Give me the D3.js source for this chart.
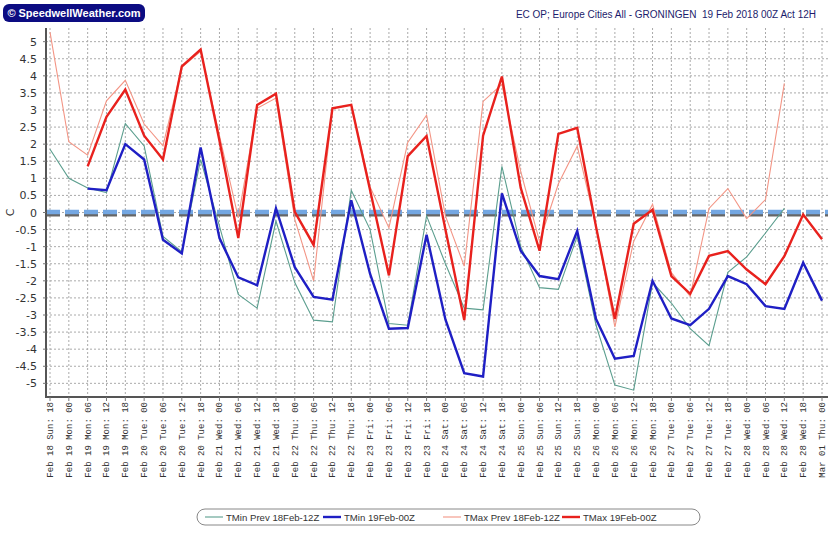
<!DOCTYPE html>
<html>
<head>
<meta charset="utf-8">
<script src="https://cdn.jsdelivr.net/npm/d3@7"></script>
<style>
  body { margin: 0; background: #fff; }
  svg { display: block; }
  .grid line { stroke: #aaa; stroke-dasharray: 2,2; stroke-width: 1; }
  .ylab { font-family: Tahoma, "DejaVu Sans", sans-serif; font-size: 11px; fill: #333; }
  .xlab { font-family: "Liberation Mono", monospace; font-size: 9px; fill: #333; }
  .legend text { font-family: "Liberation Sans", Tahoma, sans-serif; font-size: 9.6px; fill: #333; }
</style>
</head>
<body>
<script>
var w = 832, h = 535;

// x categories (6-hourly steps)
var days = ['Feb 18 Sun', 'Feb 19 Mon', 'Feb 20 Tue', 'Feb 21 Wed', 'Feb 22 Thu', 'Feb 23 Fri',
            'Feb 24 Sat', 'Feb 25 Sun', 'Feb 26 Mon', 'Feb 27 Tue', 'Feb 28 Wed', 'Mar 01 Thu'];
var hours = ['00', '06', '12', '18'];
var labels = ['Feb 18 Sun: 18'];
days.slice(1, 11).forEach(function(d) {
  hours.forEach(function(hh) { labels.push(d + ': ' + hh); });
});
labels.push('Mar 01 Thu: 00');

var yTicks = [5, 4.5, 4, 3.5, 3, 2.5, 2, 1.5, 1, 0.5, 0, -0.5, -1, -1.5, -2, -2.5, -3, -3.5, -4, -4.5, -5];

var tminPrev = [1.85, 1.0, 0.72, 0.58, 2.6, 1.95, -0.7, -1.15, 1.55, -0.4,
                -2.4, -2.8, -0.25, -2.05, -3.15, -3.2, 0.65, -0.5, -3.25, -3.3,
                -0.1, -1.5, -2.8, -2.85, 1.35, -1.0, -2.2, -2.25, -0.7, -3.3,
                -5.05, -5.2, -2.05, -2.65, -3.4, -3.9, -1.75, -1.3, -0.6, 0.12,
                null, null];
var tmin = [null, null, 0.7, 0.65, 2.0, 1.55, -0.8, -1.2, 1.9, -0.75,
            -1.9, -2.13, 0.12, -1.6, -2.47, -2.55, 0.36, -1.8, -3.4, -3.38,
            -0.65, -3.13, -4.7, -4.8, 0.56, -1.12, -1.86, -1.95, -0.54, -3.12,
            -4.28, -4.2, -2.0, -3.1, -3.3, -2.82, -1.86, -2.1, -2.74, -2.82,
            -1.47, -2.58];
var tmaxPrev = [5.28, 2.07, 1.68, 3.27, 3.87, 2.59, 1.95, 4.25, 4.72, 2.25,
                -0.15, 3.05, 3.35, -0.2, -2.0, 3.05, 3.15, 0.75, -0.45, 2.05,
                2.85, -0.1, -1.57, 3.25, 3.75, 1.2, -0.85, 0.84, 1.94, -0.4,
                -3.35, -0.84, 0.24, -1.76, -2.45, 0.12, 0.7, -0.18, 0.38, 3.78,
                null, null];
var tmax = [null, null, 1.35, 2.8, 3.6, 2.25, 1.55, 4.28, 4.77, 2.1,
            -0.75, 3.15, 3.48, 0.02, -0.95, 3.05, 3.15, 0.65, -1.84, 1.65,
            2.24, -0.5, -3.15, 2.25, 3.98, 0.72, -1.12, 2.3, 2.48, -0.42,
            -3.12, -0.33, 0.08, -1.86, -2.38, -1.27, -1.13, -1.67, -2.1, -1.28,
            -0.06, -0.78];

var series = [
  { name: 'TMin Prev 18Feb-12Z', values: tminPrev, color: '#5b9e8e', width: 1.1 },
  { name: 'TMin 19Feb-00Z', values: tmin, color: '#1f1fc4', width: 2.4 },
  { name: 'TMax Prev 18Feb-12Z', values: tmaxPrev, color: '#f39585', width: 1.1 },
  { name: 'TMax 19Feb-00Z', values: tmax, color: '#e8211d', width: 2.4 }
];

var pLeft = 46, pRight = 828, pTop = 28, pBottom = 397;

var x = d3.scalePoint().domain(labels).range([50, 822]);
var y = d3.scaleLinear().domain([-5.4, 5.4]).range([pBottom, pTop]);

var svg = d3.select('body').append('svg')
  .attr('width', w)
  .attr('height', h);

// grid
var grid = svg.append('g').attr('class', 'grid');
grid.selectAll('.hg')
  .data(yTicks)
  .enter().append('line')
    .attr('x1', pLeft).attr('x2', pRight)
    .attr('y1', function(d) { return y(d); })
    .attr('y2', function(d) { return y(d); });
grid.selectAll('.vg')
  .data(labels)
  .enter().append('line')
    .attr('x1', function(d) { return x(d); })
    .attr('x2', function(d) { return x(d); })
    .attr('y1', pTop).attr('y2', pBottom);

// zero line with shadow
svg.append('line')
  .attr('x1', pLeft).attr('x2', pRight)
  .attr('y1', y(0) + 2).attr('y2', y(0) + 2)
  .style('stroke', '#666').style('stroke-width', 4)
  .style('stroke-dasharray', '14,5');
svg.append('line')
  .attr('x1', pLeft).attr('x2', pRight)
  .attr('y1', y(0) - 0.5).attr('y2', y(0) - 0.5)
  .style('stroke', '#74a7e2').style('stroke-width', 4.5)
  .style('stroke-dasharray', '14,5');

// series
var line = d3.line()
  .defined(function(d) { return d != null; })
  .x(function(d, i) { return x(labels[i]); })
  .y(function(d) { return y(d); });

svg.selectAll('.series')
  .data(series)
  .enter().append('path')
    .attr('class', 'series')
    .attr('d', function(s) { return line(s.values); })
    .style('fill', 'none')
    .style('stroke', function(s) { return s.color; })
    .style('stroke-width', function(s) { return s.width; })
    .style('stroke-linejoin', 'miter');

// axes
svg.append('line')
  .attr('x1', pLeft).attr('x2', pLeft)
  .attr('y1', pTop).attr('y2', pBottom + 1)
  .style('stroke', '#555').style('stroke-width', 2);
svg.append('line')
  .attr('x1', pLeft - 1).attr('x2', pRight)
  .attr('y1', pBottom).attr('y2', pBottom)
  .style('stroke', '#555').style('stroke-width', 2);

svg.selectAll('.ytick')
  .data(yTicks)
  .enter().append('line')
    .attr('x1', pLeft - 3).attr('x2', pLeft)
    .attr('y1', function(d) { return y(d); })
    .attr('y2', function(d) { return y(d); })
    .style('stroke', '#777');

svg.selectAll('.ylab')
  .data(yTicks)
  .enter().append('text')
    .attr('class', 'ylab')
    .attr('x', 37)
    .attr('y', function(d) { return y(d) + 4; })
    .style('text-anchor', 'end')
    .text(function(d) { return d; });

svg.append('text')
  .attr('class', 'ylab')
  .attr('transform', 'translate(14,' + y(0) + ') rotate(-90)')
  .style('text-anchor', 'middle')
  .text('C');

svg.selectAll('.xtick')
  .data(labels)
  .enter().append('line')
    .attr('x1', function(d) { return x(d); })
    .attr('x2', function(d) { return x(d); })
    .attr('y1', pBottom).attr('y2', pBottom + 4)
    .style('stroke', '#777');

svg.selectAll('.xlab')
  .data(labels)
  .enter().append('text')
    .attr('class', 'xlab')
    .attr('transform', function(d) { return 'translate(' + (x(d) + 3) + ',' + (pBottom + 5) + ') rotate(-90)'; })
    .style('text-anchor', 'end')
    .text(function(d) { return d; });

// logo and title
svg.append('rect')
  .attr('x', 3).attr('y', 4)
  .attr('width', 142).attr('height', 18)
  .attr('rx', 6)
  .style('fill', '#0c0c82');
svg.append('text')
  .attr('x', 74).attr('y', 17)
  .style('text-anchor', 'middle')
  .style('font-family', '"Liberation Sans", sans-serif')
  .style('font-weight', 'bold')
  .style('font-size', '11px')
  .style('fill', '#fff')
  .text('\u00a9 SpeedwellWeather.com');

svg.append('text')
  .attr('x', 816).attr('y', 18)
  .style('text-anchor', 'end')
  .style('font-family', '"Liberation Sans", Tahoma, sans-serif')
  .style('font-size', '10px')
  .style('fill', '#1c1c6c')
  .style('white-space', 'pre')
  .text('EC OP; Europe Cities All - GRONINGEN  19 Feb 2018 00Z Act 12H');

// legend
var legend = svg.append('g').attr('class', 'legend');
legend.append('rect')
  .attr('x', 197).attr('y', 509)
  .attr('width', 503).attr('height', 16)
  .attr('rx', 8)
  .style('fill', '#fff')
  .style('stroke', '#888');

var legX = [205, 323, 443, 562];
var items = legend.selectAll('.item')
  .data(series)
  .enter().append('g')
    .attr('class', 'item')
    .attr('transform', function(d, i) { return 'translate(' + legX[i] + ',517)'; });
items.append('line')
  .attr('x1', 0).attr('x2', 18)
  .style('stroke', function(d) { return d.color; })
  .style('stroke-width', function(d) { return d.width; });
items.append('text')
  .attr('x', 21).attr('y', 3.5)
  .text(function(d) { return d.name; });
</script>
</body>
</html>
